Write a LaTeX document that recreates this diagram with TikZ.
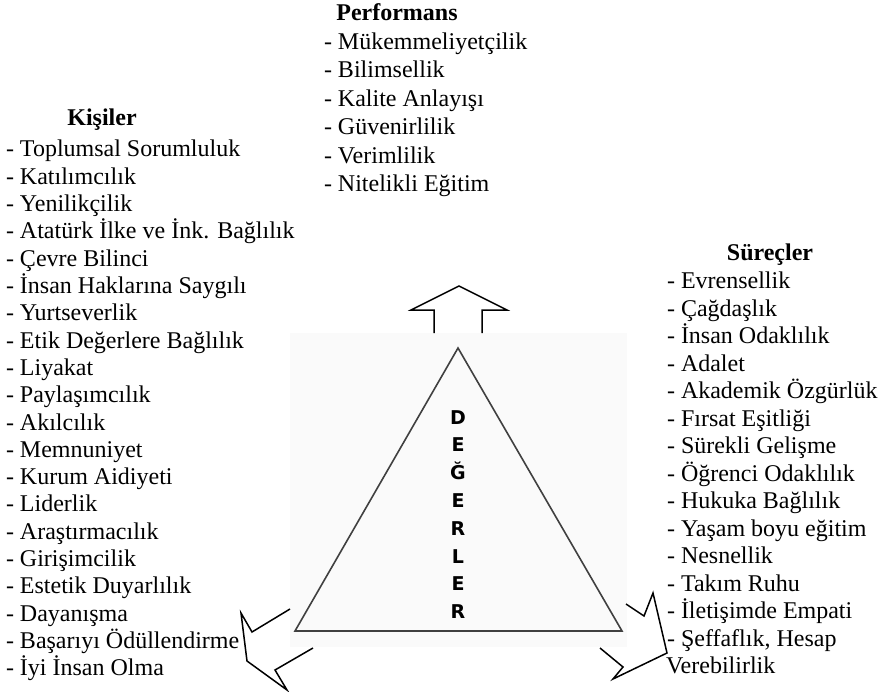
\documentclass[tikz,border=0pt]{standalone}
\usepackage{fontspec}
\setmainfont{Liberation Serif}
\newfontfamily\letterfont{DejaVu Sans}

\begin{document}
\begin{tikzpicture}[x=1pt,y=-1pt,
				every node/.style={item},
				item/.style={anchor=base west,inner sep=0pt,outer sep=0pt,font=\fontsize{24}{27.4}\selectfont},
				head/.style={item,anchor=base,font=\fontsize{24}{27.4}\selectfont\bfseries},
				letter/.style={item,anchor=base,font=\fontsize{19}{22}\selectfont\letterfont\bfseries},
				outline/.style={draw=black,line width=1.5pt}]
				\useasboundingbox (0,0) rectangle (882,692);
				\fill[black!2] (290,333) rectangle (627,647);
				\draw[black!75,line width=1.6pt] (458,348) -- (295,631) -- (622,631) -- cycle;

				\foreach \l [count=\i from 0] in {D,E,Ğ,E,R,L,E,R}
					\node[letter] (deger\i) at (458,424+27.8*\i) {\l};

				\draw[outline] (434,333) -- (434,310) -- (411,310) -- (459,286) -- (507,310) -- (482,310) -- (482,333);
				\draw[outline] (290,609) -- (252,632) -- (241,613) -- (247,661) -- (287,690) -- (275,670) -- (313,648);
				\draw[outline] (626,604) -- (644,616) -- (653,593) -- (667,653) -- (613,679) -- (623,667) -- (600,648);

				\node[head] (KISILER) at (102,125.5) {Kişiler};
				\node[head] (PERF)    at (397,21)    {Performans};
				\node[head] (SUREC)   at (770,261)   {Süreçler};

				\foreach \t [count=\i from 0] in {Toplumsal Sorumluluk,Katılımcılık,Yenilikçilik,
					Atatürk İlke ve İnk. Bağlılık,Çevre Bilinci,İnsan Haklarına Saygılı,Yurtseverlik,
					Etik Değerlere Bağlılık,Liyakat,Paylaşımcılık,Akılcılık,Memnuniyet,Kurum Aidiyeti,
					Liderlik,Araştırmacılık,Girişimcilik,Estetik Duyarlılık,Dayanışma,
					Başarıyı Ödüllendirme,İyi İnsan Olma}
					\node (kisi\i) at (6,157+27.3*\i) {- \t};

				\foreach \t [count=\i from 0] in {Mükemmeliyetçilik,Bilimsellik,Kalite Anlayışı,
					Güvenirlilik,Verimlilik,Nitelikli Eğitim}
					\node (perf\i) at (324,49.5+28.5*\i) {- \t};

				\foreach \t [count=\i from 0] in {Evrensellik,Çağdaşlık,İnsan Odaklılık,Adalet,
					Akademik Özgürlük,Fırsat Eşitliği,Sürekli Gelişme,Öğrenci Odaklılık,
					Hukuka Bağlılık,Yaşam boyu eğitim,Nesnellik,Takım Ruhu,İletişimde Empati,
					{Şeffaflık, Hesap}}
					\node (surec\i) at (667,288.5+27.5*\i) {- \t};
				\node (surec14) at (666,673.5) {Verebilirlik};
			\end{tikzpicture}
\end{document}
